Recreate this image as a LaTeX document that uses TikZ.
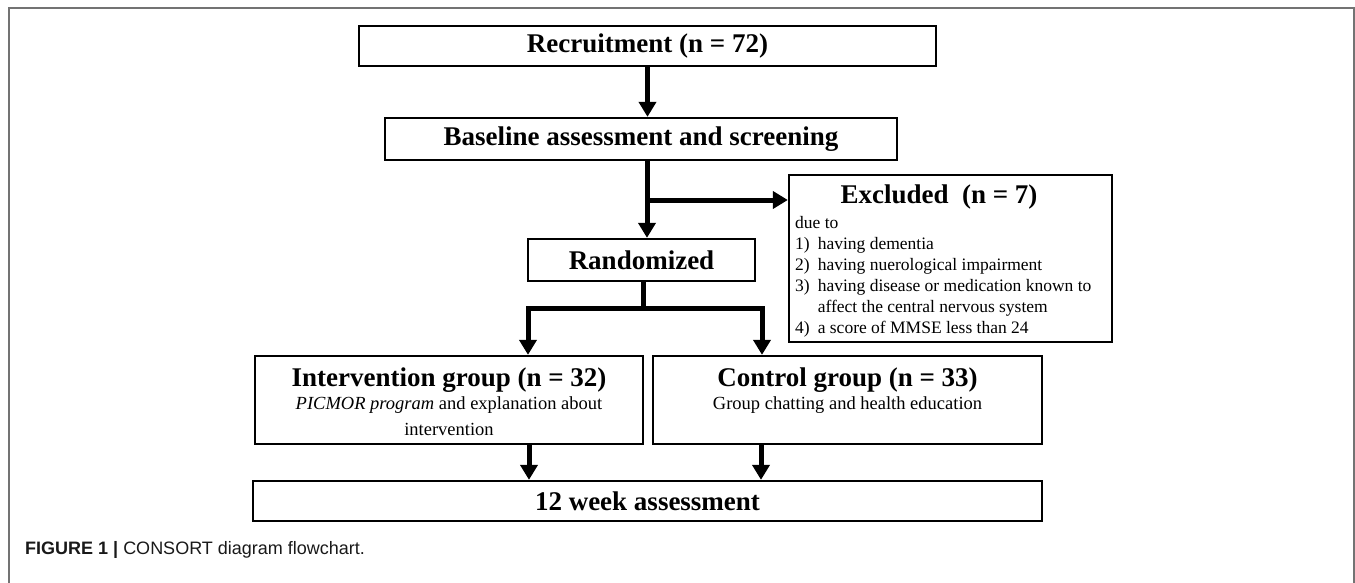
\documentclass[tikz,border=0pt]{standalone}
\usepackage{fontspec}
\setmainfont{Liberation Serif}
\setsansfont{Liberation Sans}
\usetikzlibrary{arrows.meta}
\newcommand{\ttlfont}{\fontsize{27}{31}\selectfont\bfseries}
\newcommand{\bodyfont}{\fontsize{17.5}{21}\selectfont}
\newcommand{\grpfont}{\fontsize{18.5}{22}\selectfont}
\newcommand{\capfont}{\fontsize{18}{21}\selectfont\sffamily}
\begin{document}
\begin{tikzpicture}[x=1pt,y=-1pt,
  box/.style={draw, line width=2.3pt, inner sep=0pt, align=center},
  ttl/.style={font=\ttlfont, inner sep=0pt},
  txt/.style={font=\bodyfont, inner sep=0pt},
  grp/.style={font=\grpfont, inner sep=0pt},
  shaft/.style={line width=5pt},
  arr/.style={line width=5pt, -{Triangle[length=15pt,width=17pt]}},
  framec/.style={draw=black!55, line width=1.5pt}]
\useasboundingbox (0,0) rectangle (1355,583);
% outer frame
\draw[framec] (9,583) -- (9,8) -- (1354,8) -- (1354,583);
% boxes
\node[box, minimum width=577pt, minimum height=40pt, font=\ttlfont] (rec) at (647.5,46) {Recruitment (n = 72)};
\node[box, minimum width=512pt, minimum height=42pt, font=\ttlfont] (base) at (641,139) {Baseline assessment and screening};
\node[box, minimum width=323pt, minimum height=167pt] (exc) at (950.5,258.5) {};
\node[ttl] (exct) at (939,197) {Excluded\ \ (n = 7)};
\node[txt, anchor=north west] (excl) at (795,213.3) {%
\begin{tabular}{@{}l@{\hspace{8pt}}l@{}}
\multicolumn{2}{@{}l}{due to}\\
1) & having dementia\\
2) & having nuerological impairment\\
3) & having disease or medication known to\\
   & affect the central nervous system\\
4) & a score of MMSE less than 24
\end{tabular}};
\node[box, minimum width=227pt, minimum height=42pt, font=\ttlfont] (rand) at (641.5,260) {Randomized};
\node[box, minimum width=388pt, minimum height=88pt] (intv) at (449,400) {};
\node[ttl] (intvt) at (449,380) {Intervention group (n = 32)};
\node[grp] (intv1) at (449,405) {\textit{PICMOR program} and explanation about};
\node[grp] (intv2) at (449,429) {intervention};
\node[box, minimum width=389pt, minimum height=88pt] (ctrl) at (847.5,400) {};
\node[ttl] (ctrlt) at (847.5,380) {Control group (n = 33)};
\node[grp] (ctrl1) at (847.5,405) {Group chatting and health education};
\node[box, minimum width=789pt, minimum height=40pt, font=\ttlfont] (wk) at (647.5,501) {12 week assessment};
% caption
\node[anchor=base west, inner sep=0pt, font=\capfont, text=black!90] (cap) at (25,554) {\textbf{FIGURE 1 |} CONSORT diagram flowchart.};
% connectors
\coordinate (j1) at (647,200);
\coordinate (j2) at (643,308);
\coordinate (aL) at (528,308);
\coordinate (aR) at (762,308);
\coordinate (bL) at (529,450);
\coordinate (bR) at (761,450);
\draw[arr] (rec.south) -- (rec.south |- base.north);
\draw[shaft] (base.south -| j1) -- (j1);
\draw[arr] (j1) -- (rand.north -| j1);
\draw[arr] (j1) -- (exc.west |- j1);
\draw[shaft] (rand.south -| j2) -- (j2);
\draw[arr] (j2) -- (aL) -- (aL |- intv.north);
\draw[arr] (j2) -- (aR) -- (aR |- ctrl.north);
\draw[arr] (intv.south -| bL) -- (wk.north -| bL);
\draw[arr] (ctrl.south -| bR) -- (wk.north -| bR);
\end{tikzpicture}
\end{document}
